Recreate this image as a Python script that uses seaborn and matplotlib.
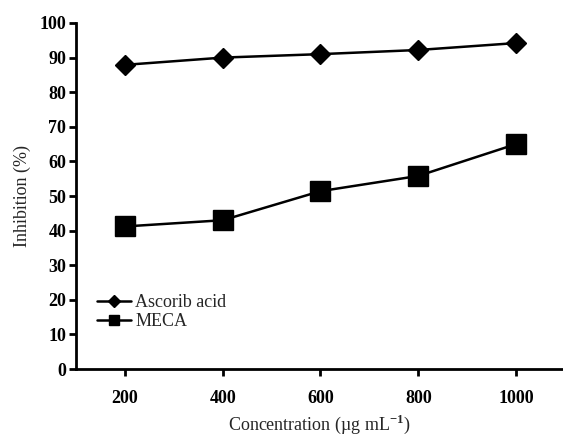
import matplotlib
matplotlib.use("Agg")
import matplotlib.pyplot as plt
import seaborn as sns
import pandas as pd
from matplotlib.lines import Line2D

concentration = [200, 400, 600, 800, 1000]
ascorbic = [87.9, 90.0, 91.0, 92.2, 94.2]
meca = [41.2, 43.0, 51.4, 55.8, 65.0]
yticks = list(range(0, 101, 10))

sns.set_theme(style="ticks")
plt.rcParams['font.family'] = ['Liberation Serif', 'DejaVu Serif']
plt.rcParams['mathtext.fontset'] = 'custom'
plt.rcParams['mathtext.rm'] = 'Liberation Serif'
plt.rcParams['mathtext.bf'] = 'Liberation Serif:bold'

df = pd.DataFrame({
    "Concentration": concentration * 2,
    "Inhibition": ascorbic + meca,
    "Series": ["Ascorib acid"] * 5 + ["MECA"] * 5,
})

fig = plt.figure(figsize=(5.63, 4.38), dpi=100)
ax = fig.add_axes([0.135, 0.1575, 0.865, 0.79])

sns.lineplot(data=df, x="Concentration", y="Inhibition", hue="Series",
             palette={"Ascorib acid": "black", "MECA": "black"},
             linewidth=1.8, ax=ax, legend=False)
ax.plot(concentration, ascorbic, color="black", marker="D", markersize=10, linestyle="none")
ax.plot(concentration, meca, color="black", marker="s", markersize=14, linestyle="none")

handles = [Line2D([0], [0], color="black", marker="D", markersize=6, linewidth=1.8),
           Line2D([0], [0], color="black", marker="s", markersize=7, linewidth=1.8)]
ax.legend(handles, ["Ascorib acid", "MECA"], loc="lower left", bbox_to_anchor=(0.01, 0.065),
          frameon=False, handlelength=1.9, handletextpad=0.2, labelspacing=0.1,
          prop={"family": "Liberation Serif", "size": 13})

ax.set_xlim(100, 1096)
ax.set_ylim(0, 100)
ax.set_xticks(concentration)
ax.set_yticks(yticks)
ax.set_xticklabels([str(c) for c in concentration], fontweight="bold", fontsize=13)
ax.set_yticklabels([str(t) for t in yticks], fontweight="bold", fontsize=13)
ax.set_xlabel("Concentration (µg mL$^{\\mathbf{-1}}$)", fontsize=13, labelpad=4)
ax.set_ylabel("Inhibition (%)", fontsize=13, labelpad=6)
for s in ["top", "right"]:
    ax.spines[s].set_visible(False)
for s in ["left", "bottom"]:
    ax.spines[s].set_linewidth(2)
    ax.spines[s].set_color("black")
ax.tick_params(axis="both", width=2, length=5, color="black", labelcolor="black", pad=2)
ax.tick_params(axis="x", pad=10)

fig.savefig("out.png", dpi=100)
